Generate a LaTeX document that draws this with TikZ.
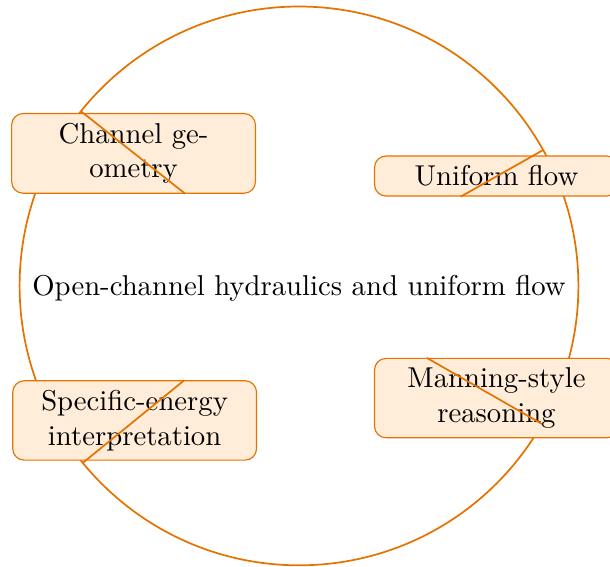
\documentclass[tikz,border=0pt]{standalone}
\usepackage{amsmath}
\usepackage{tikz}
\usetikzlibrary{calc}
\colorlet{ochre}{orange!90!black}

\begin{document}
\begin{tikzpicture}[
  topic/.style={draw=ochre, fill=orange!15, rounded corners, text width=2.75cm, align=center},
  spoke/.style={ochre, semithick}]
\useasboundingbox (-3.66,-3.44) rectangle (3.807,3.50);
\draw [spoke] (0,0) circle (3.42);
\node (hub) at (0,-0.035) {Open-channel hydraulics and uniform flow};
\node [topic] (geom) at (141.3:2.595) {Channel ge-\\ometry};
\node [topic] (unif) at (29.1:2.766) {Uniform flow};
\node [topic] (mann) at (-29.6:2.78) {Manning-style reasoning};
\node [topic] (spen) at (-140.7:2.60) {Specific-energy interpretation};
\draw [spoke] (geom.-38.7) -- (141.3:3.42);
\draw [spoke] (unif.-150.9) -- (29.1:3.42);
\draw [spoke] (mann.150.4) -- (-29.6:3.42);
\draw [spoke] (spen.39.3) -- (-140.7:3.42);
\end{tikzpicture}
\end{document}
